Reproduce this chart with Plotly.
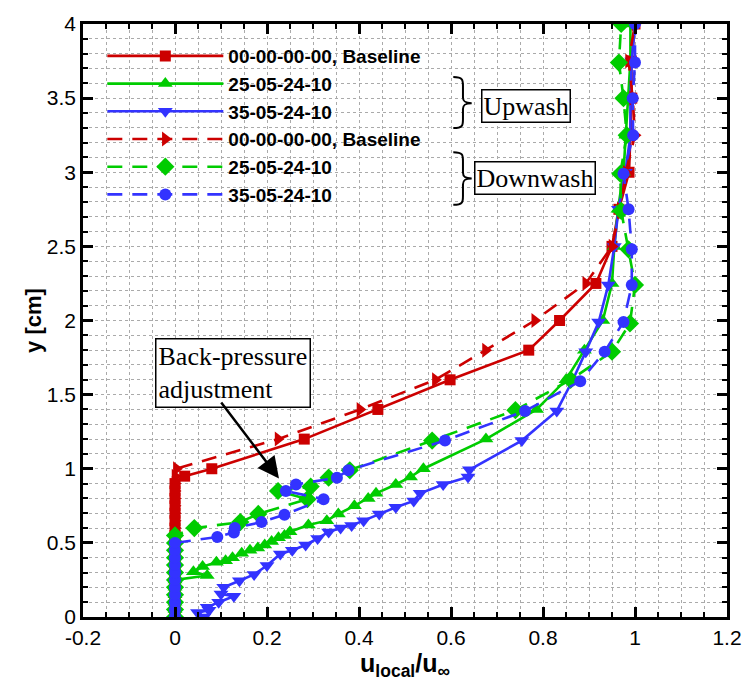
import plotly.graph_objects as go

# ---------------- data ----------------
# Upwash, baseline (solid red, squares)
rs_x = [0]*19 + [0.021, 0.08, 0.281, 0.441, 0.598, 0.769, 0.836, 0.915, 0.95, 0.965, 0.987, 0.99, 0.993, 0.992, 1.0]
rs_y = [0, 0.05, 0.1, 0.15, 0.2, 0.25, 0.3, 0.35, 0.4, 0.45, 0.5, 0.55, 0.6, 0.65, 0.7, 0.75, 0.8, 0.85, 0.9,
        0.95, 1.0, 1.2, 1.4, 1.6, 1.8, 2.0, 2.25, 2.5, 2.75, 3.0, 3.25, 3.5, 3.75, 4.0]

# Upwash, 25-05-24-10 (solid green, triangle-up)
gs_x = [0, 0, 0, 0, 0, 0, 0.07, 0.04, 0.06, 0.09, 0.11, 0.125, 0.145, 0.163, 0.18, 0.195, 0.21, 0.225, 0.238,
        0.25, 0.29, 0.33, 0.355, 0.39, 0.42, 0.437, 0.48, 0.512, 0.54, 0.676, 0.786, 0.85, 0.89, 0.93, 0.95,
        0.955, 0.963, 0.975, 0.98, 0.985, 0.99, 0.99]
gs_y = [0, 0.05, 0.1, 0.15, 0.2, 0.25, 0.28, 0.305, 0.34, 0.37, 0.38, 0.4, 0.43, 0.45, 0.465, 0.485, 0.51, 0.535,
        0.55, 0.575, 0.62, 0.65, 0.695, 0.75, 0.8, 0.834, 0.894, 0.945, 1.0, 1.2, 1.4, 1.6, 1.8, 2.0, 2.25,
        2.5, 2.75, 3.0, 3.25, 3.5, 3.75, 4.0]

# Upwash, 35-05-24-10 (solid blue, triangle-down)
bs_x = [0.063, 0.049, 0.074, 0.07, 0.095, 0.128, 0.1, 0.106, 0.14, 0.172, 0.2, 0.229, 0.255, 0.284, 0.31, 0.334,
        0.36, 0.384, 0.41, 0.444, 0.48, 0.519, 0.533, 0.583, 0.637, 0.64, 0.754, 0.83, 0.865, 0.893, 0.921,
        0.942, 0.955, 0.964, 0.979, 0.99, 0.99, 0.993, 1.0]
bs_y = [0.0, 0.03, 0.045, 0.065, 0.1, 0.14, 0.155, 0.2, 0.245, 0.287, 0.347, 0.425, 0.45, 0.486, 0.53, 0.574,
        0.6, 0.618, 0.65, 0.695, 0.74, 0.783, 0.834, 0.894, 0.945, 0.993, 1.19, 1.39, 1.6, 1.79, 1.99,
        2.24, 2.5, 2.75, 3.0, 3.25, 3.5, 3.75, 4.0]

# Downwash, baseline (dashed red, triangle-right)
rd_x = [0]*20 + [0.003, 0.224, 0.402, 0.566, 0.675, 0.782, 0.893, 0.95, 0.968, 0.98, 1.0, 0.995, 0.986, 1.0]
rd_y = [0, 0.05, 0.1, 0.15, 0.2, 0.25, 0.3, 0.35, 0.4, 0.45, 0.5, 0.55, 0.6, 0.65, 0.7, 0.75, 0.8, 0.85, 0.9, 0.95,
        1.0, 1.2, 1.4, 1.6, 1.8, 2.0, 2.25, 2.5, 2.75, 3.0, 3.25, 3.5, 3.75, 4.0]

# Downwash, 25-05-24-10 (dashed green, diamonds)
gd_x = [0]*12 + [0.042, 0.142, 0.181, 0.288, 0.224, 0.295, 0.334, 0.38, 0.559, 0.74, 0.86, 0.95, 0.989, 1.0,
                 0.986, 0.97, 0.968, 0.982, 0.975, 0.965, 0.97]
gd_y = [0, 0.05, 0.1, 0.15, 0.2, 0.25, 0.3, 0.35, 0.4, 0.45, 0.5, 0.55,
        0.6, 0.64, 0.695, 0.795, 0.85, 0.88, 0.94, 0.99, 1.19, 1.395, 1.6, 1.79, 1.98, 2.24,
        2.48, 2.74, 2.99, 3.25, 3.5, 3.74, 4.0]

# Downwash, 35-05-24-10 (dashed blue, circles)
bd_x = [0]*11 + [0.092, 0.128, 0.13, 0.188, 0.238, 0.323, 0.241, 0.263, 0.352, 0.377, 0.587, 0.761, 0.881,
                 0.934, 0.975, 0.993, 0.993, 0.986, 0.975, 0.996, 0.995, 1.0, 1.0]
bd_y = [0, 0.05, 0.1, 0.15, 0.2, 0.25, 0.3, 0.35, 0.4, 0.45, 0.5,
        0.54, 0.57, 0.6, 0.64, 0.69, 0.795, 0.85, 0.894, 0.94, 0.99, 1.19, 1.39, 1.59,
        1.79, 1.99, 2.24, 2.48, 2.75, 2.99, 3.25, 3.5, 3.74, 4.0]

names = ["00-00-00-00, Baseline", "25-05-24-10", "35-05-24-10",
         "00-00-00-00, Baseline", "25-05-24-10", "35-05-24-10"]

x_ticks = [-0.2, 0, 0.2, 0.4, 0.6, 0.8, 1, 1.2]
x_tick_text = ["-0.2", "0", "0.2", "0.4", "0.6", "0.8", "1", "1.2"]
y_ticks = [0, 0.5, 1, 1.5, 2, 2.5, 3, 3.5, 4]
y_tick_text = ["0", "0.5", "1", "1.5", "2", "2.5", "3", "3.5", "4"]
x_minor = [round(-0.2 + 0.05 * i, 2) for i in range(29)]
y_minor = [round(0.1 * i, 1) for i in range(41)]

RED = "rgb(204,0,0)"
GREEN = "rgb(0,204,0)"
BLUE = "rgb(51,51,255)"

series = [
    (rs_x, rs_y, RED, "solid", "square", 11),
    (gs_x, gs_y, GREEN, "solid", "triangle-up", 13),
    (bs_x, bs_y, BLUE, "solid", "triangle-down", 13),
    (rd_x, rd_y, RED, "15px,10px", "triangle-right", 13),
    (gd_x, gd_y, GREEN, "15px,10px", "diamond", 14),
    (bd_x, bd_y, BLUE, "15px,10px", "circle", 12),
]

fig = go.Figure()
for (xs, ys, col, dash, sym, sz), nm in zip(series, names):
    fig.add_trace(go.Scatter(
        x=xs, y=ys, mode="lines+markers", name=nm,
        line=dict(color=col, width=2.6, dash=dash),
        marker=dict(color=col, symbol=sym, size=sz, line=dict(width=0)),
    ))

grid_col = "rgb(170,170,170)"
axis_common = dict(
    showline=True, linecolor="black", linewidth=2.5, mirror="allticks",
    ticks="inside", ticklen=10, tickwidth=2.5, tickcolor="black",
    showgrid=True, gridcolor=grid_col, griddash="dot", gridwidth=1,
    zeroline=False,
    tickfont=dict(family="Liberation Sans, Arial", size=21, color="black"),
)
fig.update_xaxes(
    range=[-0.2, 1.2], tickmode="array", tickvals=x_ticks, ticktext=x_tick_text,
    minor=dict(tickmode="array", tickvals=x_minor, ticks="inside", ticklen=5, tickwidth=1.5,
               tickcolor="black", showgrid=True, gridcolor=grid_col, griddash="dot", gridwidth=1),
    title=dict(text="<b>u<sub>local</sub>/u<sub>∞</sub></b>",
               font=dict(family="Liberation Sans, Arial", size=25, color="black"), standoff=3),
    **axis_common,
)
fig.update_yaxes(
    range=[0, 4], tickmode="array", tickvals=y_ticks, ticktext=y_tick_text,
    minor=dict(tickmode="array", tickvals=y_minor, ticks="inside", ticklen=5, tickwidth=1.5,
               tickcolor="black", showgrid=True, gridcolor=grid_col, griddash="dot", gridwidth=1),
    title=dict(text="<b>y [cm]</b>",
               font=dict(family="Liberation Sans, Arial", size=22, color="black"), standoff=0),
    **axis_common,
)

# braces for the Upwash / Downwash groups
def brace(top, mid, bot, xs=0.626, xe=0.605, xt=0.645):
    return (f"M {xe},{top} C {xs},{top} {xs},{top-0.02} {xs},{top-0.06} "
            f"L {xs},{mid+0.04} C {xs},{mid+0.01} {xs+0.005},{mid} {xt},{mid} "
            f"C {xs+0.005},{mid} {xs},{mid-0.01} {xs},{mid-0.04} "
            f"L {xs},{bot+0.06} C {xs},{bot+0.02} {xs},{bot} {xe},{bot}")

fig.add_shape(type="path", path=brace(3.642, 3.466, 3.298), xref="x", yref="y",
              line=dict(color="black", width=2))
fig.add_shape(type="path", path=brace(3.135, 2.958, 2.78), xref="x", yref="y",
              line=dict(color="black", width=2))

serif = dict(family="Liberation Serif, Times New Roman", size=26, color="black")
fig.add_annotation(x=0.764, y=3.449, xref="x", yref="y", text="Upwash", showarrow=False,
                   font=serif, bgcolor="white", bordercolor="black", borderwidth=1.5, borderpad=1)
fig.add_annotation(x=0.783, y=2.958, xref="x", yref="y", text="Downwash", showarrow=False,
                   font=serif, bgcolor="white", bordercolor="black", borderwidth=1.5, borderpad=1)
fig.add_annotation(x=0.127, y=1.646, xref="x", yref="y", text="Back-pressure<br>adjustment",
                   showarrow=False, align="left", font=serif, bgcolor="white",
                   bordercolor="black", borderwidth=1.5, borderpad=2)
fig.add_annotation(x=0.226, y=0.935, xref="x", yref="y", ax=0.098, ay=1.457, axref="x", ayref="y",
                   text="", showarrow=True, arrowhead=2, arrowsize=1.7, arrowwidth=2.5,
                   arrowcolor="black")

fig.update_layout(
    width=754, height=681,
    margin=dict(l=83, r=16, t=16, b=61),
    paper_bgcolor="white", plot_bgcolor="white",
    showlegend=True,
    legend=dict(x=0.03, y=0.978, xanchor="left", yanchor="top",
                bgcolor="rgba(0,0,0,0)", borderwidth=0, itemwidth=116,
                font=dict(family="Liberation Sans, Arial", size=19, color="black", weight="bold"),
                tracegroupgap=0),
)

fig.write_html("out.html")
